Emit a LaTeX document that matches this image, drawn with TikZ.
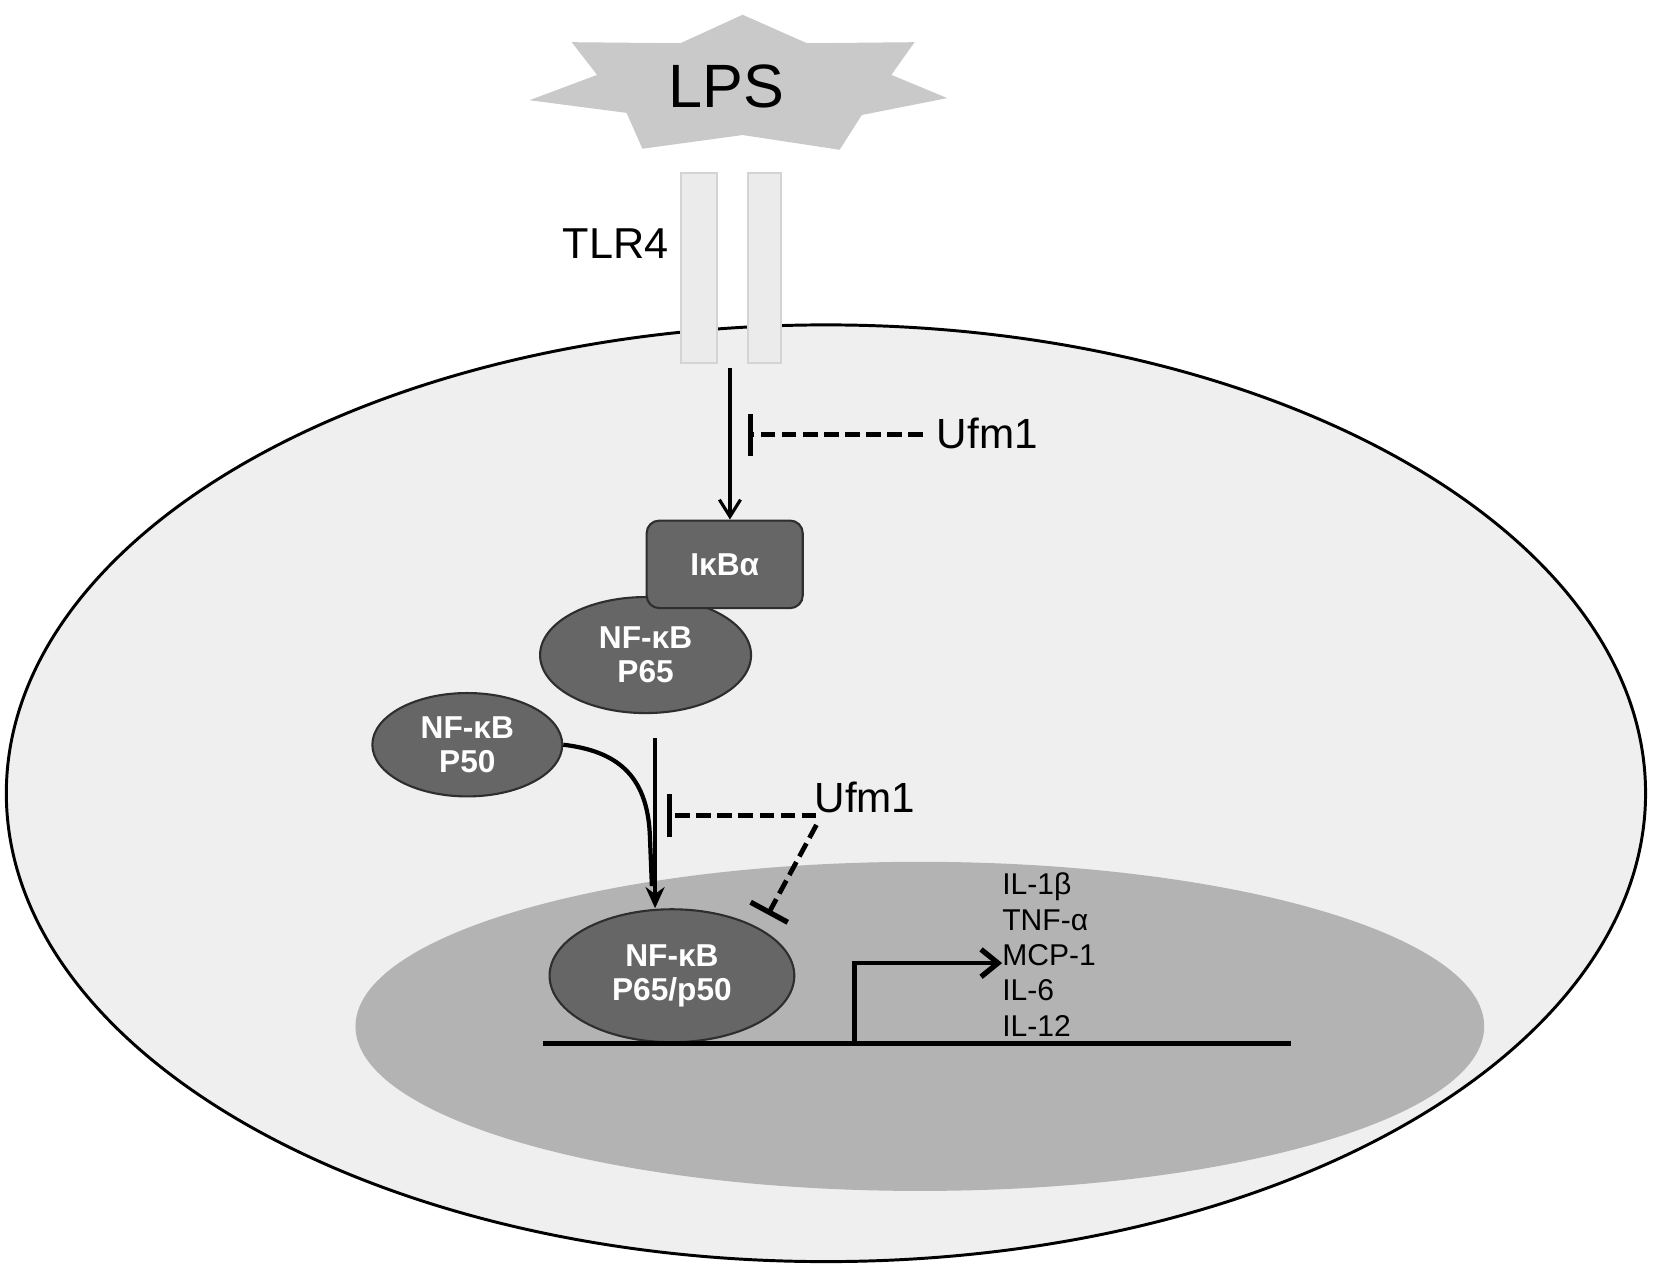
\documentclass[tikz,border=0pt]{standalone}
\usepackage{fontspec}
\setmainfont{Liberation Sans}
\usetikzlibrary{shapes.geometric,arrows.meta}
\definecolor{cellfill}{HTML}{EFEFEF}
\definecolor{nucfill}{HTML}{B3B3B3}
\definecolor{molfill}{HTML}{666666}
\definecolor{moledge}{HTML}{2E2E2E}
\definecolor{starfill}{HTML}{C9C9C9}
\definecolor{barfill}{HTML}{EBEBEB}
\definecolor{baredge}{HTML}{D4D4D4}
\tikzset{
  mol/.style={ellipse, fill=molfill, draw=moledge, line width=2pt, text=white,
    font=\bfseries\fontsize{30}{32}\selectfont, align=center, inner sep=0pt},
  boxmol/.style={rectangle, rounded corners=12pt, fill=molfill, draw=moledge, line width=2pt,
    text=white, font=\bfseries\fontsize{30}{32}\selectfont, inner sep=0pt},
  lbl/.style={font=\fontsize{40}{44}\selectfont, inner sep=0pt},
  tlrbar/.style={fill=barfill, draw=baredge, line width=2pt},
  thinarrow/.style={line width=3pt, -{Straight Barb[length=16pt,width=20pt,line width=3pt]}},
  thickline/.style={line width=4.5pt},
  inhib/.style={line width=4.5pt, dash pattern=on 14pt off 6pt, -{Bar[width=40pt,line width=5pt]}},
}
\begin{document}
\begin{tikzpicture}[x=1pt, y=-1pt]
\useasboundingbox (0,0) rectangle (1568,1204);
\fill[white] (0,0) rectangle (1568,1204);

% cell
\draw[fill=cellfill, line width=2.8pt] (783,752) ellipse [x radius=777, y radius=444];
% nucleus
\fill[nucfill] (872,973) ellipse [x radius=535, y radius=156];

% LPS star
\fill[starfill] (704,14) -- (645,41) -- (542,40) -- (566,71) -- (502,95) -- (594,107)
  -- (609,141) -- (704,128) -- (796,142) -- (817,109) -- (898,93) -- (845,71)
  -- (867,40) -- (765,41) -- cycle;
\node[font=\fontsize{58}{62}\selectfont, inner sep=0pt] (lps) at (689,82) {LPS};

% TLR4
\draw[tlrbar] (646,164) rectangle (680,344);
\draw[tlrbar] (709,164) rectangle (740,344);
\node[lbl, font=\fontsize{41}{45}\selectfont, anchor=east] (tlr4) at (634,231) {TLR4};

% molecules
\node[mol, minimum width=200pt, minimum height=110pt] (p65) at (612,621) {NF-κB\\P65};
\node[boxmol, minimum width=148pt, minimum height=83pt] (ikb) at (687,535) {IκBα};
\node[mol, minimum width=180pt, minimum height=98pt] (p50) at (443,706) {NF-κB\\P50};
\node[mol, minimum width=232pt, minimum height=126pt] (p6550) at (637,925) {NF-κB\\P65/p50};

% labels
\node[lbl, anchor=west] (ufm1a) at (888,411) {Ufm1};
\node[lbl, anchor=west] (ufm1b) at (772,756) {Ufm1};
\node[anchor=west, align=left, inner sep=0pt, font=\fontsize{28.5}{33.6}\selectfont] (cyto) at (950,905)
  {IL-1β\\TNF-α\\MCP-1\\IL-6\\IL-12};

% coordinates
\coordinate (tlrout) at (692,349);
\coordinate (u1) at (875,412);
\coordinate (bar1) at (709,412);
\coordinate (vtop) at (621,700);
\coordinate (bar2) at (632,773);
\coordinate (u2a) at (774,773);
\coordinate (u2b) at (774,782);
\coordinate (bar3) at (728,867);
\coordinate (dnaL) at (515,989);
\coordinate (dnaR) at (1224,989);
\coordinate (prom) at (810,989);
\coordinate (promtip) at (950,913);

% connectors
\draw[thinarrow] (tlrout) -- (ikb.north -| tlrout);
\draw[inhib] (u1) -- (bar1);
\draw[thickline, line width=4pt, -{Stealth[length=20pt,width=18pt]}] (vtop) -- (p6550.north -| vtop);
\draw[line width=4pt] (p50.east) .. controls (585,712) and (613,735) .. (616,790) -- (618,840);
\draw[inhib] (u2a) -- (bar2);
\draw[inhib] (u2b) -- (bar3);
\draw[thickline] (dnaL) -- (dnaR);
\draw[thickline, -{Straight Barb[length=16pt,width=26pt,line width=5pt]}] (prom) |- (promtip);
\end{tikzpicture}
\end{document}
